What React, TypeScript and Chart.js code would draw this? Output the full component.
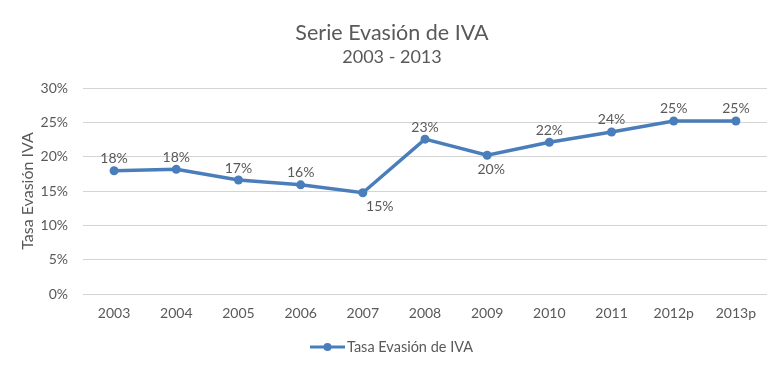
import React, { useEffect, useRef } from "react";
import { Chart, registerables } from "chart.js";

Chart.register(...registerables);

const categories = ["2003", "2004", "2005", "2006", "2007", "2008", "2009", "2010", "2011", "2012p", "2013p"];
const evasion = [0.1795, 0.1815, 0.166, 0.159, 0.1475, 0.2255, 0.202, 0.221, 0.236, 0.252, 0.252];
const labelBelow = [false, false, false, false, true, false, true, false, false, false, false];
const titleText = "Serie Evasión de IVA";
const subtitleText = "2003 - 2013";
const seriesName = "Tasa Evasión de IVA";
const yTitle = "Tasa Evasión IVA";

const FONT = "Lato, 'Open Sans', sans-serif";
const TEXT = "#595959";
const BLUE = "#4a7ebb";

const overlay = {
  id: "overlay",
  afterDatasetsDraw(chart: any) {
    const ctx = chart.ctx;
    const meta = chart.getDatasetMeta(0);
    ctx.save();
    ctx.fillStyle = TEXT;
    ctx.font = `14px ${FONT}`;
    ctx.textAlign = "center";
    meta.data.forEach((pt: any, i: number) => {
      const v = evasion[i];
      const txt = Math.round(v * 100) + "%";
      if (labelBelow[i]) {
        ctx.textBaseline = "top";
        const dx = i === 4 ? 17 : 4;
        ctx.fillText(txt, pt.x + dx, pt.y + 7);
      } else {
        ctx.textBaseline = "bottom";
        ctx.fillText(txt, pt.x, pt.y - 5);
      }
    });
    // title
    ctx.font = `21.5px ${FONT}`;
    ctx.textBaseline = "middle";
    ctx.fillText(titleText, 392, 33);
    ctx.font = `18px ${FONT}`;
    ctx.fillText(subtitleText, 392, 57);
    // legend
    const lx = 310;
    const ly = 347;
    ctx.strokeStyle = BLUE;
    ctx.lineWidth = 3;
    ctx.beginPath();
    ctx.moveTo(lx, ly);
    ctx.lineTo(lx + 35, ly);
    ctx.stroke();
    ctx.fillStyle = BLUE;
    ctx.beginPath();
    ctx.arc(lx + 17.5, ly, 4, 0, Math.PI * 2);
    ctx.fill();
    ctx.fillStyle = TEXT;
    ctx.font = `14.5px ${FONT}`;
    ctx.textAlign = "left";
    ctx.fillText(seriesName, lx + 37, ly);
    ctx.restore();
  },
};

export default function App() {
  const ref = useRef<HTMLCanvasElement>(null);
  useEffect(() => {
    document.body.style.margin = "0";
    const chart = new Chart(ref.current!, {
      type: "line",
      data: {
        labels: categories,
        datasets: [
          {
            label: seriesName,
            data: evasion,
            borderColor: BLUE,
            backgroundColor: BLUE,
            borderWidth: 3.5,
            pointRadius: 4.5,
            pointBackgroundColor: BLUE,
            pointBorderWidth: 0,
            tension: 0,
          },
        ],
      },
      options: {
        responsive: false,
        animation: false,
        layout: { padding: { left: 0, right: 16, top: 88, bottom: 46 } },
        plugins: {
          legend: { display: false },
          title: { display: false },
          tooltip: { enabled: false },
        },
        scales: {
          x: {
            offset: true,
            grid: { display: false, drawTicks: false },
            border: { display: false },
            ticks: { color: TEXT, font: { family: FONT, size: 14 }, padding: 11 },
            afterFit: (s: any) => { s.height = 30; },
          },
          y: {
            min: 0,
            max: 0.3,
            grid: { color: "#d4d4d4", drawTicks: false },
            border: { display: false },
            ticks: {
              stepSize: 0.05,
              color: TEXT,
              font: { family: FONT, size: 14 },
              padding: 15,
              callback: (v: any) => Math.round(Number(v) * 100) + "%",
            },
            title: {
              display: true,
              text: yTitle,
              color: TEXT,
              font: { family: FONT, size: 16 },
              padding: { top: 18, bottom: 0 },
            },
            afterFit: (s: any) => { s.width = 83; },
          },
        },
      },
      plugins: [overlay],
    });
    return () => chart.destroy();
  }, []);
  return <canvas ref={ref} width={783} height={370} style={{ display: "block" }} />;
}
